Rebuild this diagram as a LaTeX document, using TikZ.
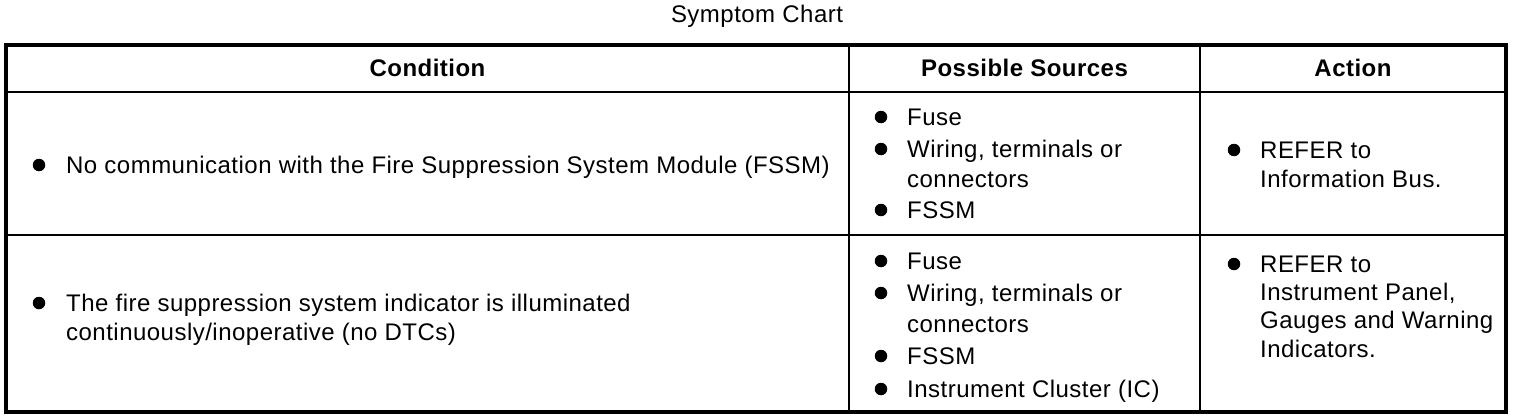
\documentclass[tikz,border=0pt]{standalone}
\usepackage{fontspec}
\setmainfont{Liberation Sans}[LetterSpace=2]
\begin{document}
\begin{tikzpicture}[x=1pt,y=-1pt,
  txt/.style={anchor=base west, inner sep=0pt},
  hd/.style={anchor=base, inner sep=0pt, font=\bfseries},
  dot/.style={circle, fill=black, inner sep=0pt, minimum size=12.5pt}]
\fontsize{24}{30}\selectfont
\useasboundingbox (0,0) rectangle (1520,420);
\node[anchor=base, inner sep=0pt] (title) at (757,23) {Symptom Chart};
% grid
\draw[line width=1.6] (6,92) -- (1506,92);
\draw[line width=1.6] (6,235) -- (1506,235);
\draw[line width=1.6] (849,45) -- (849,412);
\draw[line width=1.6] (1200,45) -- (1200,412);
\draw[line width=4] (6,45) rectangle (1506,412);
% headers
\node[hd] (hcond) at (427.5,77) {Condition};
\node[hd] (hsrc) at (1024.5,77) {Possible Sources};
\node[hd] (hact) at (1353,77) {Action};
% row 1
\node[dot] (c1b) at (39,165) {};
\node[txt] (c1) at (66,173) {No communication with the Fire Suppression System Module (FSSM)};
\node[dot] (s1b1) at (881,117) {};
\node[txt] (s1t1) at (907,125) {Fuse};
\node[dot] (s1b2) at (881,149) {};
\node[txt] (s1t2) at (907,157) {Wiring, terminals or};
\node[txt] (s1t3) at (907,187) {connectors};
\node[dot] (s1b4) at (881,210) {};
\node[txt] (s1t4) at (907,218) {FSSM};
\node[dot] (a1b) at (1234,150) {};
\node[txt] (a1t1) at (1260,158) {REFER to};
\node[txt] (a1t2) at (1260,187) {Information Bus.};
% row 2
\node[dot] (c2b) at (39,303) {};
\node[txt] (c2t1) at (66,311) {The fire suppression system indicator is illuminated};
\node[txt] (c2t2) at (66,340) {continuously/inoperative (no DTCs)};
\node[dot] (s2b1) at (881,261) {};
\node[txt] (s2t1) at (907,269) {Fuse};
\node[dot] (s2b2) at (881,293) {};
\node[txt] (s2t2) at (907,301) {Wiring, terminals or};
\node[txt] (s2t3) at (907,332) {connectors};
\node[dot] (s2b4) at (881,356) {};
\node[txt] (s2t4) at (907,364) {FSSM};
\node[dot] (s2b5) at (881,389) {};
\node[txt] (s2t5) at (907,397) {Instrument Cluster (IC)};
\node[dot] (a2b) at (1234,264) {};
\node[txt] (a2t1) at (1260,272) {REFER to};
\node[txt] (a2t2) at (1260,300) {Instrument Panel,};
\node[txt] (a2t3) at (1260,328) {Gauges and Warning};
\node[txt] (a2t4) at (1260,357) {Indicators.};
\end{tikzpicture}
\end{document}
